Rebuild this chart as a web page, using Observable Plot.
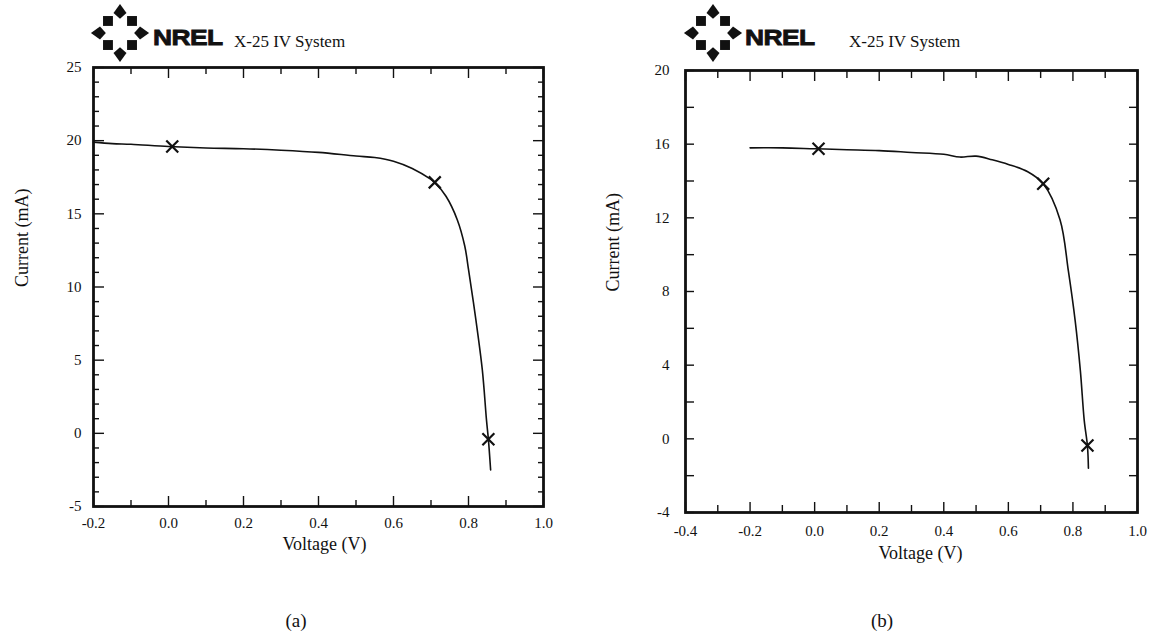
<!DOCTYPE html>
<html><head><meta charset="utf-8">
<script src="https://cdn.jsdelivr.net/npm/d3@7"></script>
<script src="https://cdn.jsdelivr.net/npm/@observablehq/plot@0.6"></script>
<style>
body{margin:0;background:#fff;}
#root{position:relative;width:1157px;height:639px;overflow:hidden;font-family:"Liberation Serif","Times New Roman",serif;color:#111;}
.abs{position:absolute;}
.nrel{font-family:"Liberation Sans",Arial,sans-serif;font-weight:900;font-size:22px;letter-spacing:-0.5px;line-height:1;transform:scaleX(1.2);transform-origin:left center;-webkit-text-stroke:0.8px #111;}
.title{font-size:17px;line-height:1;white-space:nowrap;}
.cap{font-size:19px;line-height:1;}
</style></head><body><div id="root"></div>
<script>
// ---- data: panel (a) ----
const voltageA = [-0.2, -0.15, -0.1, 0.0, 0.1, 0.2, 0.3, 0.4, 0.5, 0.55, 0.6, 0.65, 0.7, 0.71, 0.74, 0.77, 0.79, 0.8, 0.82, 0.837, 0.848, 0.853, 0.859];
const currentA = [19.9, 19.8, 19.75, 19.6, 19.5, 19.45, 19.35, 19.2, 18.95, 18.85, 18.6, 18.1, 17.35, 17.15, 16.2, 14.6, 12.8, 11.2, 7.7, 4.3, 0.9, -0.4, -2.5];
const markVA = [0.01, 0.71, 0.853];
const markIA = [19.6, 17.15, -0.4];
const xMajorA = [-0.2, 0.0, 0.2, 0.4, 0.6, 0.8, 1.0];
const xMinorA = [-0.1, 0.1, 0.3, 0.5, 0.7, 0.9];
const yMajorA = [-5, 0, 5, 10, 15, 20, 25];
const yMinorA = [-4, -3, -2, -1, 1, 2, 3, 4, 6, 7, 8, 9, 11, 12, 13, 14, 16, 17, 18, 19, 21, 22, 23, 24];

// ---- data: panel (b) ----
const voltageB = [-0.2, -0.1, 0.0, 0.1, 0.2, 0.3, 0.4, 0.45, 0.5, 0.55, 0.6, 0.66, 0.708, 0.76, 0.786, 0.807, 0.823, 0.835, 0.845, 0.848];
const currentB = [15.8, 15.8, 15.75, 15.7, 15.65, 15.55, 15.45, 15.3, 15.35, 15.15, 14.9, 14.5, 13.85, 11.9, 9.1, 6.4, 3.7, 1.0, -0.4, -1.6];
const markVB = [0.012, 0.708, 0.845];
const markIB = [15.75, 13.85, -0.36];
const xMajorB = [-0.4, -0.2, 0.0, 0.2, 0.4, 0.6, 0.8, 1.0];
const xMinorB = [-0.3, -0.1, 0.1, 0.3, 0.5, 0.7, 0.9];
const yMajorB = [-4, 0, 4, 8, 12, 16, 20];
const yMinorB = [-2, 2, 6, 10, 14, 18];

const xLabel = "Voltage (V)";
const yLabel = "Current (mA)";
const titleText = "X-25 IV System";
const logoText = "NREL";
const captions = ["(a)", "(b)"];

const FONT = "Liberation Serif, Times New Roman, serif";
const fmt1 = d => d.toFixed(1);
const fmt0 = d => String(d);
const blank = () => "";

function panel(o) {
  const line = o.v.map((v, i) => ({v, c: o.c[i]}));
  const pts = o.mv.map((v, i) => ({v, c: o.mc[i]}));
  const tickOnly = (axis, ticks, anchor, size) =>
    axis(ticks, {anchor, tickSize: -size, tickFormat: blank, label: null, strokeWidth: 1.4});
  return Plot.plot({
    width: o.width, height: o.height,
    marginLeft: o.ml, marginRight: o.mr, marginTop: o.mt, marginBottom: o.mb,
    style: {fontFamily: FONT, background: "transparent", color: "#111"},
    x: {domain: o.xd, label: null},
    y: {domain: o.yd, label: null},
    marks: [
      tickOnly(Plot.axisX, o.xMaj, "bottom", o.xMajLen),
      tickOnly(Plot.axisX, o.xMin, "bottom", o.xMinLen),
      tickOnly(Plot.axisX, o.xMaj, "top", o.xMajLen),
      tickOnly(Plot.axisX, o.xMin, "top", o.xMinLen),
      tickOnly(Plot.axisY, o.yMaj, "left", o.yMajLen),
      tickOnly(Plot.axisY, o.yMin, "left", o.yMinLen),
      tickOnly(Plot.axisY, o.yMaj, "right", o.yMajLen),
      tickOnly(Plot.axisY, o.yMin, "right", o.yMinLen),
      Plot.text(o.xMaj, {x: d => d, text: fmt1, frameAnchor: "bottom", dy: o.xPad, lineAnchor: "middle", fontSize: 15, fill: "#111"}),
      Plot.text(o.yMaj, {y: d => d, text: fmt0, frameAnchor: "left", dx: -o.yPad, textAnchor: "end", fontSize: 15, fill: "#111"}),
      Plot.frame({stroke: "#111", strokeWidth: 2.8}),
      Plot.line(line, {x: "v", y: "c", curve: "catmull-rom", stroke: "#111", strokeWidth: 1.6}),
      Plot.dot(pts, {x: "v", y: "c", symbol: "times", r: 5.5, stroke: "#111", strokeWidth: 2.2}),
      Plot.text([xLabel], {frameAnchor: "bottom", dy: o.xLabDy, dx: o.xLabDx, fontSize: 18, fill: "#111"}),
      Plot.text([yLabel], {frameAnchor: "left", rotate: -90, dx: o.yLabDx, fontSize: 18, fill: "#111"})
    ]
  });
}

const root = document.getElementById("root");

function place(el, left, top) {
  el.classList.add("abs");
  el.style.left = left + "px";
  el.style.top = top + "px";
  root.appendChild(el);
}

const pa = panel({
  width: 580, height: 570, ml: 93, mr: 37, mt: 67, mb: 64,
  v: voltageA, c: currentA, mv: markVA, mc: markIA,
  xd: [-0.2, 1.0], yd: [-5, 25],
  xMaj: xMajorA, xMin: xMinorA, yMaj: yMajorA, yMin: yMinorA,
  xMajLen: 10, xMinLen: 6, yMajLen: 11, yMinLen: 6,
  xPad: 17, yPad: 12, xLabDy: 43, xLabDx: 6, yLabDx: -71
});
place(pa, 0, 0);

const pb = panel({
  width: 577, height: 575, ml: 105, mr: 20, mt: 70, mb: 63,
  v: voltageB, c: currentB, mv: markVB, mc: markIB,
  xd: [-0.4, 1.0], yd: [-4, 20],
  xMaj: xMajorB, xMin: xMinorB, yMaj: yMajorB, yMin: yMinorB,
  xMajLen: 10, xMinLen: 7, yMajLen: 9, yMinLen: 9,
  xPad: 19, yPad: 16, xLabDy: 46, xLabDx: 9, yLabDx: -72
});
place(pb, 580, 0);

// logo + title headers
function logo(cx, cy) {
  const ns = "http://www.w3.org/2000/svg";
  const svg = document.createElementNS(ns, "svg");
  svg.setAttribute("width", 64); svg.setAttribute("height", 64);
  const g = document.createElementNS(ns, "g");
  g.setAttribute("transform", "translate(32,32)");
  for (let k = 0; k < 8; k++) {
    const a = k * 45;
    const card = k % 2 === 0;
    const R = card ? 20 : 17;
    const s = card ? 6.5 : 7;
    const p = document.createElementNS(ns, "path");
    p.setAttribute("d", card ? `M0,${-s*1.4} L${s},0 L0,${s*0.9} L${-s},0 Z` : `M0,${-s} L${s},0 L0,${s} L${-s},0 Z`);
    p.setAttribute("fill", "#111");
    p.setAttribute("transform", `rotate(${a}) translate(0,${-R})`);
    g.appendChild(p);
  }
  svg.appendChild(g);
  svg.style.left = (cx - 32) + "px"; svg.style.top = (cy - 32) + "px";
  svg.style.position = "absolute";
  root.appendChild(svg);
}
function header(logoX, logoY, nrelX, titleX) {
  logo(logoX, logoY);
  const n = document.createElement("div");
  n.className = "nrel"; n.textContent = logoText;
  place(n, nrelX, 27);
  const t = document.createElement("div");
  t.className = "title"; t.textContent = titleText;
  place(t, titleX, 33);
}
header(120, 33, 153, 234);
header(713, 33, 745, 849);

// captions
[[296, captions[0]], [882, captions[1]]].forEach(([cx, txt]) => {
  const c = document.createElement("div");
  c.className = "cap"; c.textContent = txt;
  c.style.transform = "translateX(-50%)";
  place(c, cx, 611);
});
</script>
</body></html>
